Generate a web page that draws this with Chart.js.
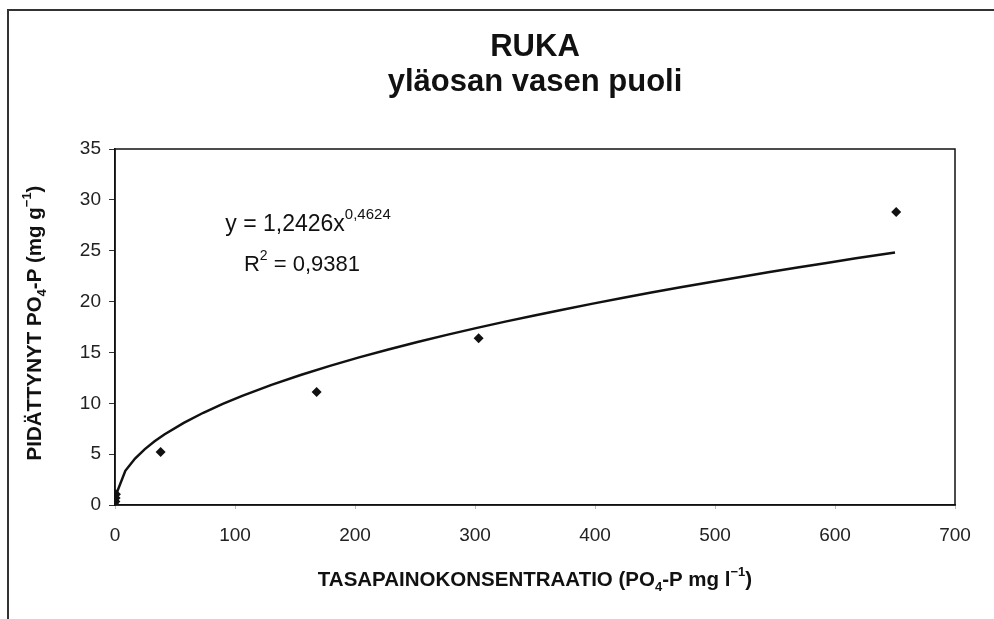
<!DOCTYPE html>
<html>
<head>
<meta charset="utf-8">
<script src="https://cdn.jsdelivr.net/npm/chart.js@4.4.1/dist/chart.umd.min.js"></script>
<style>
  html, body { margin: 0; padding: 0; background: #fff; }
  #wrap { width: 994px; height: 619px; position: relative; }
</style>
</head>
<body>
<div id="wrap"><canvas id="c" width="994" height="619"></canvas></div>
<script>
// Measured isotherm points: equilibrium concentration (mg/l) vs retained PO4-P (mg/g)
const concentration = [0.1, 0.3, 0.5, 0.8, 38, 168, 303, 651];
const retained      = [0.0, 0.35, 0.7, 1.05, 5.2, 11.1, 16.4, 28.8];

// Power trendline y = a·x^b as reported on the chart
const TREND_A = 1.2426;
const TREND_B = 0.4624;
const trendX = [0.5, 8.6, 16.7, 24.9, 33, 41.1, 57.3, 73.6, 89.8, 106, 130.4, 154.7, 179.1,
                203.4, 227.8, 252.1, 276.5, 300.8, 325.2, 349.5, 373.9, 398.2, 422.6, 446.9,
                471.3, 495.6, 520, 544.3, 568.7, 593, 617.4, 650];

const xTicks = [0, 100, 200, 300, 400, 500, 600, 700];
const yTicks = [0, 5, 10, 15, 20, 25, 30, 35];

const FONT = '"Liberation Sans", Arial, sans-serif';

function drawRich(ctx, parts, x, y) {
  // parts: [{t, size, dy, bold}] — drawn centred on x, baseline y
  let total = 0;
  parts.forEach(p => {
    ctx.font = (p.bold ? 'bold ' : '') + p.size + 'px ' + FONT;
    p.w = ctx.measureText(p.t).width;
    total += p.w;
  });
  let cx = x - total / 2;
  ctx.textAlign = 'left';
  ctx.textBaseline = 'alphabetic';
  parts.forEach(p => {
    ctx.font = (p.bold ? 'bold ' : '') + p.size + 'px ' + FONT;
    ctx.fillText(p.t, cx, y + (p.dy || 0));
    cx += p.w;
  });
}

const decorations = {
  id: 'decorations',
  beforeDraw(chart) {
    const ctx = chart.ctx;
    ctx.save();
    ctx.fillStyle = '#fff';
    ctx.fillRect(0, 0, chart.width, chart.height);
    // outer frame (top and left edges)
    ctx.strokeStyle = '#333';
    ctx.lineWidth = 2;
    ctx.beginPath();
    ctx.moveTo(8, 619);
    ctx.lineTo(8, 10);
    ctx.lineTo(994, 10);
    ctx.stroke();
    ctx.restore();
  },
  afterDraw(chart) {
    const ctx = chart.ctx;
    const a = chart.chartArea;
    ctx.save();
    // plot box
    ctx.strokeStyle = '#111';
    ctx.lineWidth = 1.5;
    ctx.strokeRect(a.left, a.top, a.right - a.left, a.bottom - a.top);

    ctx.fillStyle = '#111';
    const cx = (a.left + a.right) / 2;
    // titles
    drawRich(ctx, [{t: 'RUKA', size: 31, bold: true}], cx, 56);
    drawRich(ctx, [{t: 'yläosan vasen puoli', size: 31, bold: true}], cx, 91);

    // trendline equation
    drawRich(ctx, [
      {t: 'y = 1,2426x', size: 23},
      {t: '0,4624', size: 15, dy: -12}
    ], 308, 231);
    drawRich(ctx, [
      {t: 'R', size: 22},
      {t: '2', size: 14, dy: -11},
      {t: ' = 0,9381', size: 22}
    ], 302, 271);

    // x-axis title
    drawRich(ctx, [
      {t: 'TASAPAINOKONSENTRAATIO (PO', size: 20.5, bold: true},
      {t: '4', size: 13, bold: true, dy: 5},
      {t: '-P mg l', size: 20.5, bold: true},
      {t: '−1', size: 13, bold: true, dy: -10},
      {t: ')', size: 20.5, bold: true}
    ], cx, 586);

    // y-axis title (rotated)
    ctx.translate(41, (a.top + a.bottom) / 2 - 4);
    ctx.rotate(-Math.PI / 2);
    drawRich(ctx, [
      {t: 'PIDÄTTYNYT PO', size: 20.5, bold: true},
      {t: '4', size: 13, bold: true, dy: 5},
      {t: '-P (mg g', size: 20.5, bold: true},
      {t: '−1', size: 13, bold: true, dy: -10},
      {t: ')', size: 20.5, bold: true}
    ], 0, 0);
    ctx.restore();
  }
};

const points = concentration.map((x, i) => ({x, y: retained[i]}));
const trend = trendX.map(x => ({x, y: TREND_A * Math.pow(x, TREND_B)}));

new Chart(document.getElementById('c'), {
  type: 'scatter',
  data: {
    datasets: [
      {
        label: 'trend',
        data: trend,
        showLine: true,
        borderColor: '#111',
        borderWidth: 2.5,
        pointRadius: 0,
        tension: 0,
        order: 2
      },
      {
        label: 'data',
        data: points,
        pointStyle: 'rectRot',
        pointRadius: 5,
        backgroundColor: '#111',
        borderColor: '#111',
        borderWidth: 0,
        order: 1
      }
    ]
  },
  options: {
    responsive: false,
    animation: false,
    devicePixelRatio: 1,
    layout: { padding: { top: 149, right: 39, left: 0, bottom: 0 } },
    plugins: { legend: { display: false }, tooltip: { enabled: false } },
    scales: {
      x: {
        type: 'linear',
        min: 0, max: 700,
        afterBuildTicks: s => { s.ticks = xTicks.map(v => ({value: v})); },
        afterFit: s => { s.height = 114; },
        grid: { drawOnChartArea: false, drawTicks: true, tickLength: 4, color: '#bbb' },
        border: { display: true, color: '#111', width: 1.5 },
        ticks: { color: '#222', padding: 15, font: { family: FONT, size: 19 }, maxRotation: 0 }
      },
      y: {
        type: 'linear',
        min: 0, max: 35,
        afterBuildTicks: s => { s.ticks = yTicks.map(v => ({value: v})); },
        afterFit: s => { s.width = 115; },
        grid: { drawOnChartArea: false, drawTicks: true, tickLength: 6, color: '#333' },
        border: { display: true, color: '#111', width: 1.5 },
        ticks: { color: '#222', padding: 8, font: { family: FONT, size: 19 } }
      }
    }
  },
  plugins: [decorations]
});
</script>
</body>
</html>
